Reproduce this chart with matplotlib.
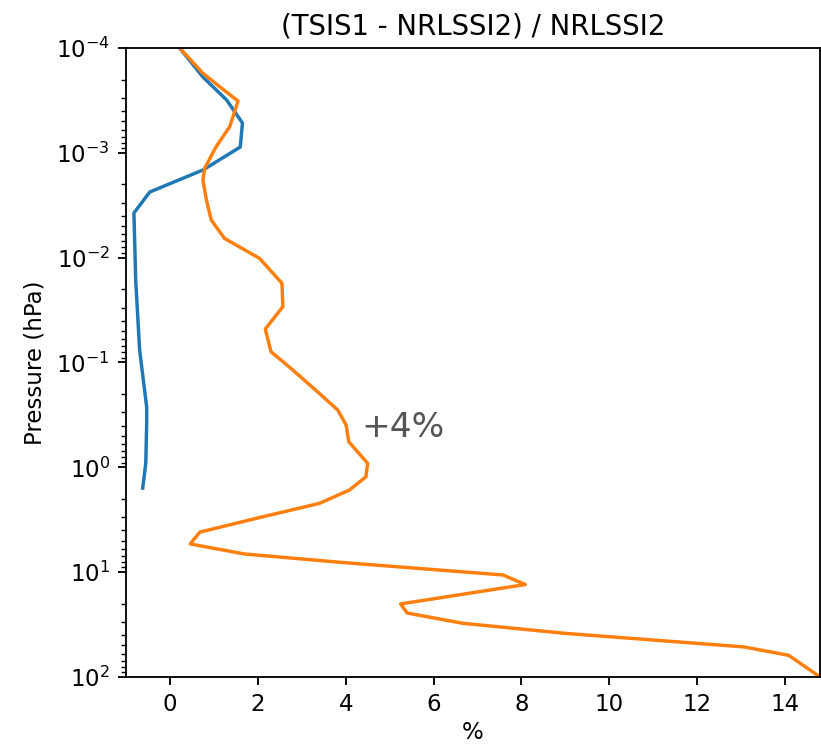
import numpy as np
from matplotlib import pyplot as plt

# Relative difference of the two solar spectra, per pressure level (hPa)
blue_pct = [0.22, 0.75, 1.29, 1.65, 1.60, 0.75, -0.46, -0.82, -0.78, -0.69,
            -0.53, -0.53, -0.55, -0.62]
blue_logp = [-4.00, -3.723, -3.504, -3.284, -3.055, -2.836, -2.626, -2.426,
             -1.786, -1.118, -0.574, -0.422, -0.040, 0.198]

orange_pct = [0.22, 0.75, 1.13, 1.55, 1.47, 1.36, 1.05, 0.79, 0.75, 0.83,
              0.94, 1.24, 2.04, 2.55, 2.57, 2.17, 2.30, 2.80, 3.40, 3.82,
              4.01, 4.07, 4.50, 4.46, 4.08, 3.40, 2.11, 0.68, 0.46, 1.70,
              3.93, 7.58, 8.09, 5.25, 5.40, 6.67, 9.00, 13.06, 14.08, 14.8]
orange_logp = [-4.00, -3.759, -3.631, -3.494, -3.392, -3.249, -3.058, -2.852,
               -2.740, -2.550, -2.359, -2.184, -1.993, -1.755, -1.532, -1.319,
               -1.103, -0.927, -0.705, -0.546, -0.403, -0.244, -0.038, 0.091,
               0.218, 0.344, 0.472, 0.618, 0.731, 0.827, 0.908, 1.027, 1.118,
               1.303, 1.390, 1.488, 1.584, 1.713, 1.793, 2.00]

blue_p = 10.0 ** np.array(blue_logp)
orange_p = 10.0 ** np.array(orange_logp)

dpi = 165
fig, ax = plt.subplots(figsize=(821 / dpi, 745 / dpi), dpi=dpi)
fig.subplots_adjust(left=0.1535, right=0.999, top=0.9356, bottom=0.0913)

ax.plot(blue_pct, blue_p, color='tab:blue', linewidth=1.5)
ax.plot(orange_pct, orange_p, color='tab:orange', linewidth=1.5)

ax.set_yscale('log')
ax.set_ylim(1e2, 1e-4)
ax.set_xlim(-1, 14.8)
ax.set_xticks([0, 2, 4, 6, 8, 10, 12, 14])

ax.text(4.36, 0.42, '+4%', fontsize=15, color='#555555', va='center', ha='left')

ax.set_title('(TSIS1 - NRLSSI2) / NRLSSI2', fontsize=12)
ax.set_xlabel('%', labelpad=2)
ax.set_ylabel('Pressure (hPa)')

fig.savefig('out.png', dpi=dpi)
